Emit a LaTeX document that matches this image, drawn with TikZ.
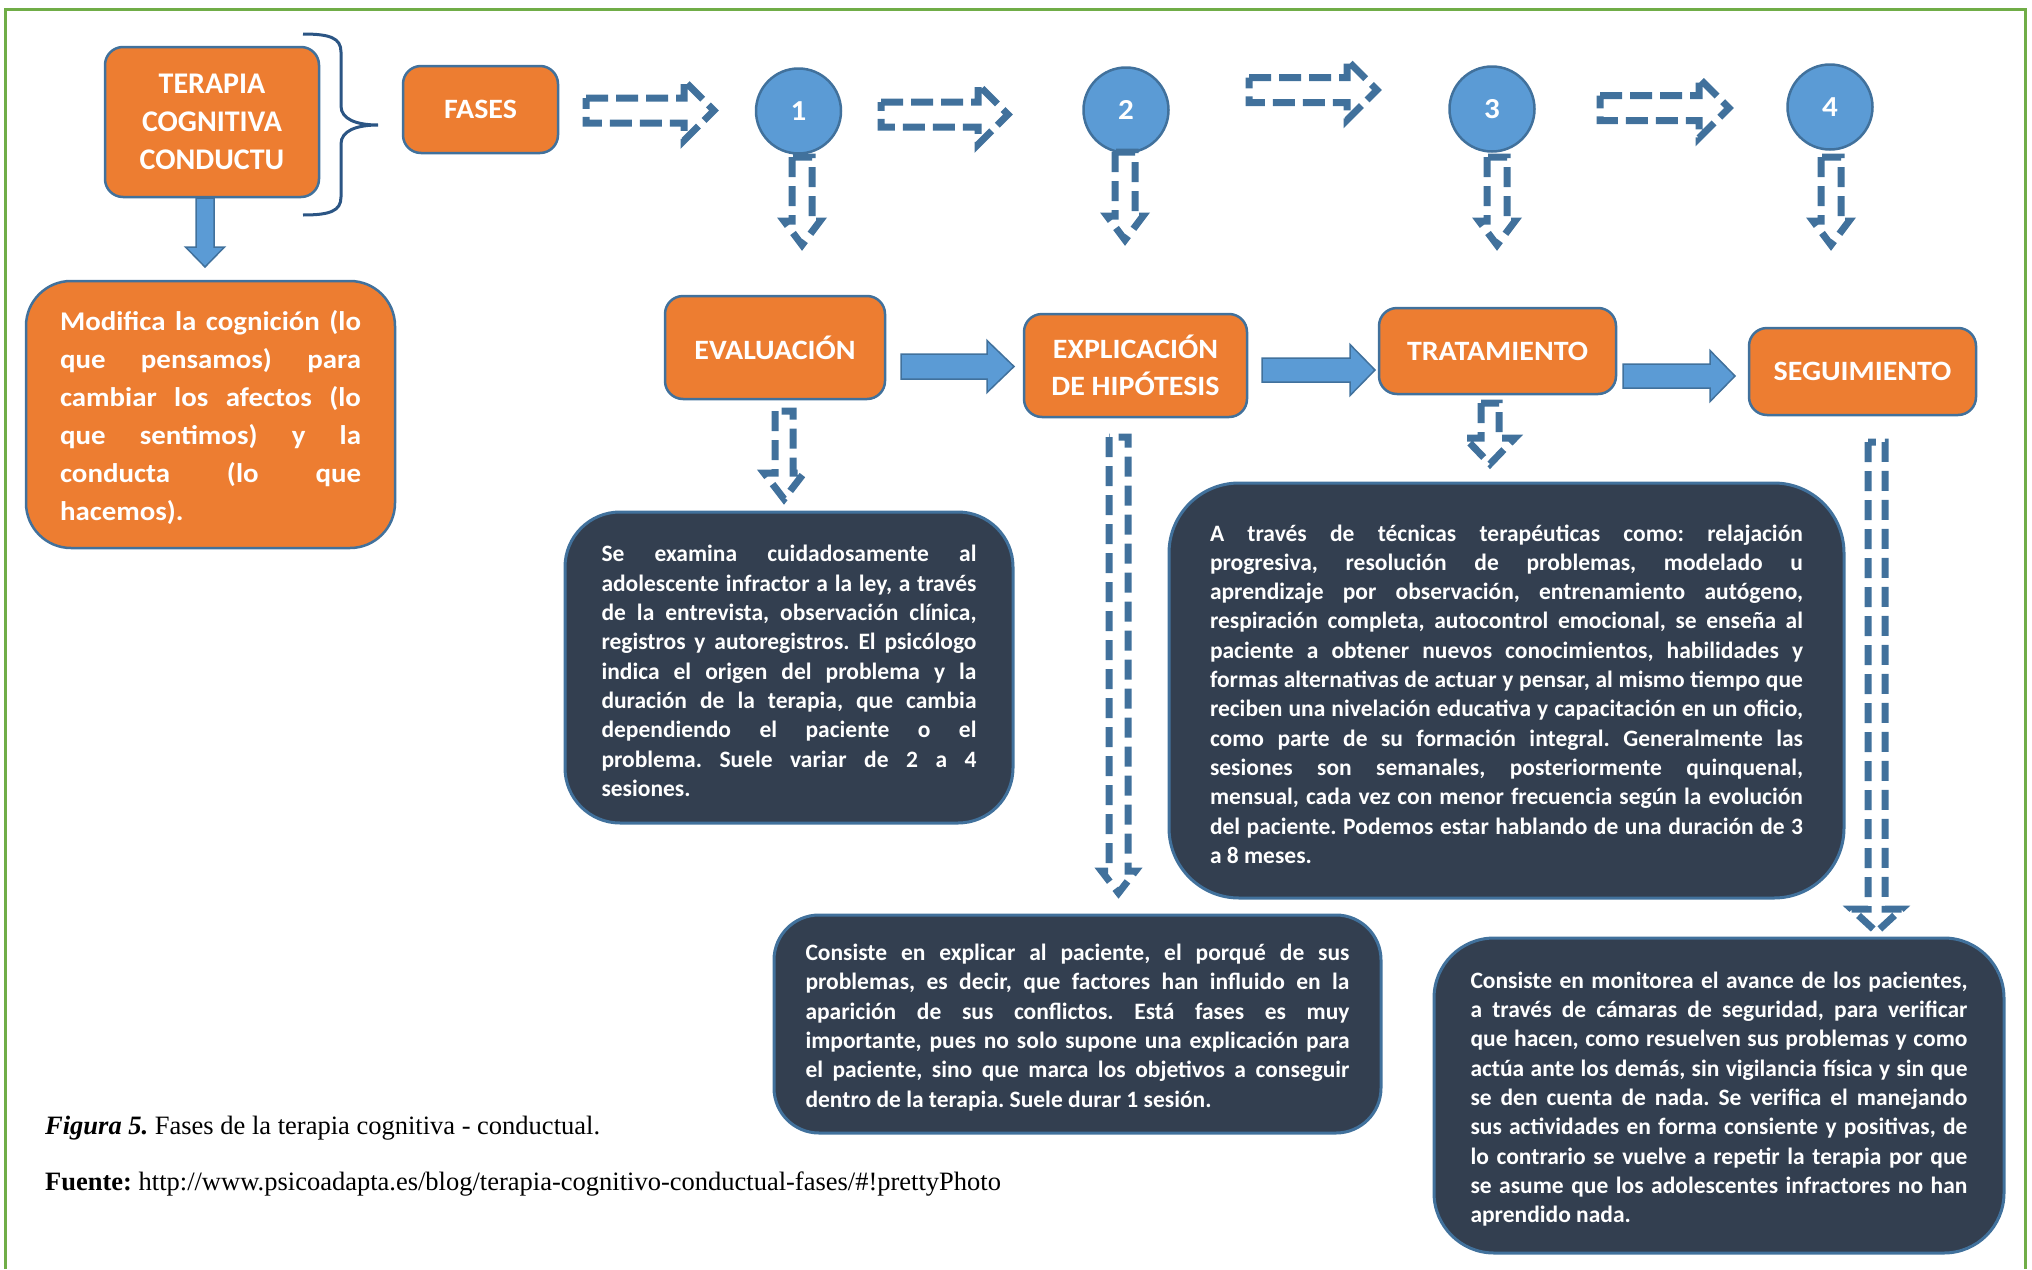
\documentclass[tikz,border=0pt]{standalone}
\usepackage{fontspec}
\setmainfont{Liberation Serif}
\newfontfamily\calibri{Carlito}
\newfontfamily\calibriancha{Carlito}[FakeStretch=1.07]
\usetikzlibrary{calc}
\frenchspacing

\definecolor{naranja}{HTML}{ED7D31}
\definecolor{azul}{HTML}{5B9BD5}
\definecolor{borde}{HTML}{41719C}
\definecolor{oscuro}{HTML}{333F50}
\definecolor{marco}{HTML}{70AD47}
\definecolor{llave}{HTML}{2B5584}

\newcommand\jl[1]{\hbox to\hsize{#1}}
\newcommand\bloque[2]{\vbox{\hsize=#1\relax\vskip7pt #2}}
% flechas de bloque: estilo, inicio, punta, medio cuerpo, media cabeza, largo cabeza
\newcommand\flechah[6]{\draw[#1] ($(#2)+(0,-#4)$) -- ($(#3)+(-#6,-#4)$) -- ($(#3)+(-#6,-#5)$) -- (#3) -- ($(#3)+(-#6,#5)$) -- ($(#3)+(-#6,#4)$) -- ($(#2)+(0,#4)$) -- cycle;}
\newcommand\flechav[6]{\draw[#1] ($(#2)+(-#4,0)$) -- ($(#3)+(-#4,-#6)$) -- ($(#3)+(-#5,-#6)$) -- (#3) -- ($(#3)+(#5,-#6)$) -- ($(#3)+(#4,-#6)$) -- ($(#2)+(#4,0)$) -- cycle;}

\tikzset{
  naranjo/.style={draw=borde, line width=2.5pt, fill=naranja, text=white, rounded corners=18pt, inner sep=0pt},
  titulo/.style={naranjo, align=center, font=\calibriancha\bfseries\fontsize{28}{37}\selectfont},
  numero/.style={circle, draw=borde, line width=2.5pt, fill=azul, text=white, minimum size=85pt, inner sep=0pt, font=\calibriancha\bfseries\fontsize{29}{30}\selectfont},
  oscura/.style={draw=borde, line width=3pt, fill=oscuro, text=white, rounded corners=55pt, inner sep=0pt, font=\calibri\bfseries\fontsize{23.5}{29.3}\selectfont\spaceskip .226em plus 1fill minus .1em\relax},
  solida/.style={draw=borde, line width=1.5pt, fill=azul},
  rayada/.style={draw=borde, line width=7pt, dash pattern=on 22pt off 8pt},
  rayadav/.style={draw=borde, line width=7pt, dash pattern=on 20pt off 9pt},
  pie/.style={anchor=base west, inner sep=0pt, font=\fontsize{26.5}{30}\selectfont}
}

\begin{document}
\begin{tikzpicture}[x=1pt,y=-1pt]
\useasboundingbox (0,0) rectangle (2032,1269);
\draw[marco, line width=3pt] (5,1269) -- (5,9) -- (2025,9) -- (2025,1269);

% cajas naranjas
\node[titulo, minimum width=214pt, minimum height=150pt, font=\calibri\bfseries\fontsize{30}{38}\selectfont] (terapia) at (212,122) {TERAPIA\\COGNITIVA\\CONDUCTU};
\node[titulo, minimum width=155pt, minimum height=87pt] (fases) at (480.5,109.5) {FASES};
\node[titulo, minimum width=220pt, minimum height=103pt] (evaluacion) at (775,347.5) {EVALUACIÓN};
\node[titulo, minimum width=223pt, minimum height=103pt] (explicacion) at (1135.5,365.5) {EXPLICACIÓN\\DE HIPÓTESIS};
\node[titulo, minimum width=237pt, minimum height=86pt] (tratamiento) at (1497.5,351) {TRATAMIENTO};
\node[titulo, minimum width=227pt, minimum height=87pt] (seguimiento) at (1862.5,371.5) {SEGUIMIENTO};
\node[naranjo, rounded corners=45pt, minimum width=369pt, minimum height=267pt, font=\calibriancha\bfseries\fontsize{27}{38}\selectfont\spaceskip .226em plus 1fill minus .1em\relax] (modifica) at (210.5,414.5) {\bloque{301pt}{
\jl{Modifica la cognición (lo}
\jl{que pensamos) para}
\jl{cambiar los afectos (lo}
\jl{que sentimos) y la}
\jl{conducta (lo que}
\hbox{hacemos).}}};

\draw[llave, line width=3pt] (303,34) .. controls (330,34) and (341,38) .. (341,52) -- (341,106) .. controls (341,119) and (356,125) .. (378,125) .. controls (356,125) and (341,131) .. (341,144) -- (341,197) .. controls (341,211) and (330,215) .. (303,215);

% fases numeradas
\node[numero] (n1) at (798.5,111) {1};
\node[numero] (n2) at (1126,110) {2};
\node[numero] (n3) at (1492,109) {3};
\node[numero] (n4) at (1830,107) {4};

% cajas de texto
\node[oscura, minimum width=448pt, minimum height=311pt] (textoeval) at (789,667.5) {\bloque{375pt}{
\jl{Se examina cuidadosamente al}
\jl{adolescente infractor a la ley, a través}
\jl{de la entrevista, observación clínica,}
\jl{registros y autoregistros. El psicólogo}
\jl{indica el origen del problema y la}
\jl{duración de la terapia, que cambia}
\jl{dependiendo el paciente o el}
\jl{problema. Suele variar de 2 a 4}
\hbox{sesiones.}}};
\node[oscura, rounded corners=45pt, minimum width=607pt, minimum height=218pt] (textoexpl) at (1077.5,1024) {\bloque{544pt}{
\jl{Consiste en explicar al paciente, el porqué de sus}
\jl{problemas, es decir, que factores han influido en la}
\jl{aparición de sus conflictos. Está fases es muy}
\jl{importante, pues no solo supone una explicación para}
\jl{el paciente, sino que marca los objetivos a conseguir}
\hbox{dentro de la terapia. Suele durar 1 sesión.}}};
\node[oscura, rounded corners=70pt, minimum width=675pt, minimum height=415pt] (textotrat) at (1506.5,690.5) {\bloque{593pt}{
\jl{A través de técnicas terapéuticas como: relajación}
\jl{progresiva, resolución de problemas, modelado u}
\jl{aprendizaje por observación, entrenamiento autógeno,}
\jl{respiración completa, autocontrol emocional, se enseña al}
\jl{paciente a obtener nuevos conocimientos, habilidades y}
\jl{formas alternativas de actuar y pensar, al mismo tiempo que}
\jl{reciben una nivelación educativa y capacitación en un oficio,}
\jl{como parte de su formación integral. Generalmente las}
\jl{sesiones son semanales, posteriormente quinquenal,}
\jl{mensual, cada vez con menor frecuencia según la evolución}
\jl{del paciente. Podemos estar hablando de una duración de 3}
\hbox{a 8 meses.}}};
\node[oscura, rounded corners=60pt, minimum width=570pt, minimum height=315pt] (textoseg) at (1719,1095.5) {\bloque{497pt}{
\jl{Consiste en monitorea el avance de los pacientes,}
\jl{a través de cámaras de seguridad, para verificar}
\jl{que hacen, como resuelven sus problemas y como}
\jl{actúa ante los demás, sin vigilancia física y sin que}
\jl{se den cuenta de nada. Se verifica el manejando}
\jl{sus actividades en forma consiente y positivas, de}
\jl{lo contrario se vuelve a repetir la terapia por que}
\jl{se asume que los adolescentes infractores no han}
\hbox{aprendido nada.}}};

% flechas
\coordinate (s0a) at (205,198); \coordinate (s0b) at (205,267);
\coordinate (s1a) at (901,366.5); \coordinate (s1b) at (1014,366.5);
\coordinate (s2a) at (1262,370); \coordinate (s2b) at (1375,370);
\coordinate (s3a) at (1623,376); \coordinate (s3b) at (1735,376);
\flechav{solida}{s0a}{s0b}{9}{19.5}{20}
\flechah{solida}{s1a}{s1b}{12.5}{26}{27}
\flechah{solida}{s2a}{s2b}{12}{25.5}{25}
\flechah{solida}{s3a}{s3b}{12}{25.5}{25}

\coordinate (h1a) at (586,110.5); \coordinate (h1b) at (714,110.5);
\coordinate (h2a) at (881,114.5); \coordinate (h2b) at (1008,114.5);
\coordinate (h3a) at (1249,90); \coordinate (h3b) at (1377,90);
\coordinate (h4a) at (1600,108); \coordinate (h4b) at (1729,108);
\flechah{rayada}{h1a}{h1b}{12.5}{30}{30}
\flechah{rayada}{h2a}{h2b}{12.5}{30}{30}
\flechah{rayada}{h3a}{h3b}{12.5}{30}{30}
\flechah{rayada}{h4a}{h4b}{12.5}{30}{30}

\coordinate (v1a) at (802,157); \coordinate (v1b) at (802,245);
\coordinate (v2a) at (1125,152); \coordinate (v2b) at (1125,240);
\coordinate (v3a) at (1497,157); \coordinate (v3b) at (1497,245);
\coordinate (v4a) at (1831,157); \coordinate (v4b) at (1831,245);
\flechav{rayadav}{v1a}{v1b}{10}{18}{24}
\flechav{rayadav}{v2a}{v2b}{10}{18}{24}
\flechav{rayadav}{v3a}{v3b}{10}{18}{24}
\flechav{rayadav}{v4a}{v4b}{10}{18}{24}

\coordinate (v5a) at (784,411); \coordinate (v5b) at (784,499);
\coordinate (v6a) at (1118.5,437); \coordinate (v6b) at (1118.5,893);
\coordinate (v7a) at (1490,403); \coordinate (v7b) at (1490,464);
\coordinate (v8a) at (1876.5,442); \coordinate (v8b) at (1876.5,932);
\flechav{rayadav}{v5a}{v5b}{9}{20}{26}
\flechav{rayadav}{v6a}{v6b}{9.5}{17}{22}
\flechav{rayadav}{v7a}{v7b}{9}{25}{26}
\flechav{rayadav}{v8a}{v8b}{8.5}{25}{23}

% pie de figura
\node[pie] (figura) at (45,1134) {\textbf{\textit{Figura 5.}} Fases de la terapia cognitiva - conductual.};
\node[pie] (fuente) at (45,1190) {\textbf{Fuente:} http://www.psicoadapta.es/blog/terapia-cognitivo-conductual-fases/\#!prettyPhoto};
\end{tikzpicture}
\end{document}
